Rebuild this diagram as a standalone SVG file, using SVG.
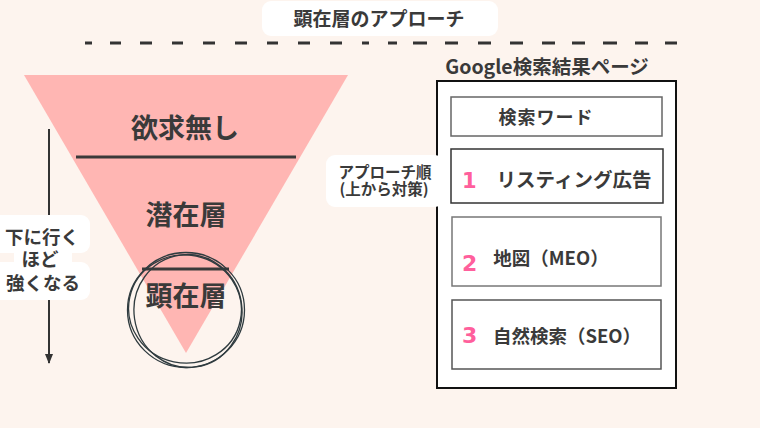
<svg xmlns="http://www.w3.org/2000/svg" width="760" height="428" viewBox="0 0 760 428">
<defs>
<style>
.t{font-family:"Noto Sans CJK JP","Noto Sans",sans-serif;font-weight:700;fill:#3a3a3a;text-anchor:middle}
.num{font-family:"DejaVu Sans","Noto Sans",sans-serif;font-weight:900;fill:#ff5f9c}
.ring{fill:none;stroke:#2f3b3f;stroke-width:1.3}
.ibox{fill:#fff;stroke-width:1.5}
</style>
<marker id="ah" markerWidth="10" markerHeight="8" refX="9" refY="4" orient="auto" markerUnits="userSpaceOnUse">
<path d="M0,0 L10,4 L0,8 Z" fill="#333"/>
</marker>
</defs>
<rect width="760" height="428" fill="#fdf4ee"/>

<g id="title">
<rect x="262" y="1" width="236" height="35" rx="9" fill="#fff"/>
<text class="t" x="379" y="26" font-size="19">顕在層のアプローチ</text>
</g>
<path d="M85,43h7 M110,43h11 M140,43h12 M172,43h11 M203,43h12 M235,43h12 M267,43h11 M298,43h12 M330,43h12 M362,43h7 M388,43h9 M413,43h14 M445,43h13 M478,43h13 M510,43h13 M542,43h13 M572,43h13 M603,43h14 M635,43h13 M665,43h12" stroke="#333" stroke-width="3" fill="none"/>

<g id="funnel">
<polygon points="24,75 348,75 186,353" fill="#ffb6b3"/>
<line x1="76" y1="157" x2="296" y2="157" stroke="#3a3a3a" stroke-width="3"/>
<line x1="142" y1="269" x2="229" y2="269" stroke="#3a3a3a" stroke-width="3"/>
<text class="t" x="185" y="138" font-size="27">欲求無し</text>
<text class="t" x="186" y="225" font-size="27">潜在層</text>
<text class="t" x="186" y="306" font-size="27">顕在層</text>
</g>
<g id="highlight-circle">
<ellipse class="ring" cx="186" cy="310" rx="58.5" ry="57.5"/>
<ellipse class="ring" cx="188" cy="311" rx="54" ry="56.5" transform="rotate(-8 188 311)"/>
<ellipse class="ring" cx="185" cy="309" rx="56.5" ry="54" transform="rotate(12 185 309)"/>
</g>

<g id="connectors">
<line x1="49" y1="129" x2="49" y2="363" stroke="#333" stroke-width="2" marker-end="url(#ah)"/>
</g>

<g id="depth-label">
<rect x="-10" y="215" width="100" height="38" rx="9" fill="#fff"/>
<rect x="-10" y="262" width="100" height="38" rx="9" fill="#fff"/>
<rect x="14" y="245" width="58" height="24" fill="#fff"/>
<text class="t" x="42" y="244" font-size="18.5">下に行く</text>
<text class="t" x="40" y="266" font-size="18.5">ほど</text>
<text class="t" x="43" y="290" font-size="18.5">強くなる</text>
</g>

<g id="serp">
<text class="t" x="547" y="74" font-size="19.5">Google検索結果ページ</text>
<rect x="437" y="81" width="239" height="307" fill="#fff" stroke="#111" stroke-width="2"/>
</g>

<g id="order-label">
<rect x="326" y="155" width="118" height="52" rx="9" fill="#fff"/>
<text class="t" x="385" y="178" font-size="15.5">アプローチ順</text>
<text class="t" x="384" y="195" font-size="15.5">(上から対策)</text>
</g>

<g id="keyword">
<rect class="ibox" x="451" y="97" width="211" height="39" stroke="#666"/>
<text class="t" x="546" y="124" font-size="18" letter-spacing="1">検索ワード</text>
</g>
<g id="listing">
<rect class="ibox" x="451" y="149" width="212" height="54" stroke="#333"/>
<text class="num" x="462" y="188" font-size="21">1</text>
<text class="t" x="574" y="187" font-size="19.5">リスティング広告</text>
</g>
<g id="meo">
<rect class="ibox" x="452" y="217" width="209" height="69" stroke="#777"/>
<text class="num" x="462" y="271" font-size="22">2</text>
<text class="t" x="551" y="265" font-size="18.5">地図（MEO）</text>
</g>
<g id="seo">
<rect class="ibox" x="452" y="300" width="209" height="69" stroke="#555"/>
<text class="num" x="462" y="343" font-size="22">3</text>
<text class="t" x="567" y="343" font-size="18.5">自然検索（SEO）</text>
</g>
</svg>
